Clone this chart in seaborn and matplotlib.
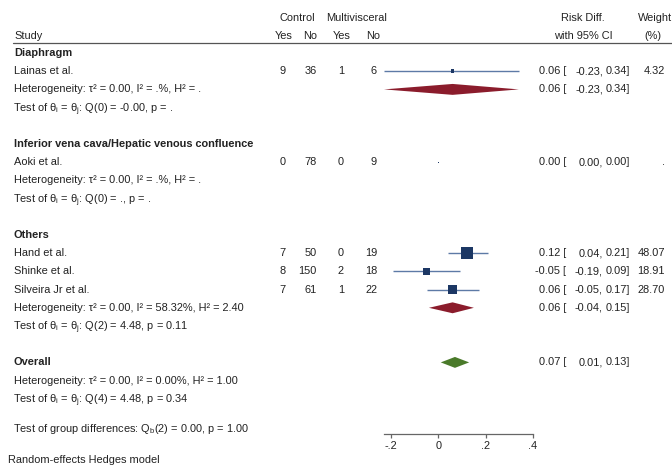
import numpy as np
import matplotlib
matplotlib.use("Agg")
import matplotlib.pyplot as plt
import matplotlib.transforms as mtransforms
import seaborn as sns

# ─── Data ─────────────────────────────────────────────────────────────────────

studies  = ["Lainas et al.", "Aoki et al.", "Hand et al.", "Shinke et al.", "Silveira Jr et al."]
subgroup = ["Diaphragm", "Inferior vena cava/Hepatic venous confluence",
            "Others", "Others", "Others"]
ctrl_yes = [9, 0, 7, 8, 7]
ctrl_no  = [36, 78, 50, 150, 61]
mv_yes   = [1, 0, 0, 2, 1]
mv_no    = [6, 9, 19, 18, 22]
rd       = [0.06, 0.00, 0.12, -0.05, 0.06]
rd_lo    = [-0.23, 0.00, 0.04, -0.19, -0.05]
rd_hi    = [0.34, 0.00, 0.21, 0.09, 0.17]
weight   = [4.32, np.nan, 48.07, 18.91, 28.70]

groups     = ["Diaphragm", "Inferior vena cava/Hepatic venous confluence", "Others"]
group_rd   = [0.06, np.nan, 0.06]
group_lo   = [-0.23, np.nan, -0.04]
group_hi   = [0.34, np.nan, 0.15]
group_het  = ["τ² = 0.00, I² = .%, H² = .",
              "τ² = 0.00, I² = .%, H² = .",
              "τ² = 0.00, I² = 58.32%, H² = 2.40"]
group_test = ["Q(0) = -0.00, p = .",
              "Q(0) = ., p = .",
              "Q(2) = 4.48, p = 0.11"]

overall_rd, overall_lo, overall_hi = 0.07, 0.01, 0.13
overall_het  = "τ² = 0.00, I² = 0.00%, H² = 1.00"
overall_test = "Q(4) = 4.48, p = 0.34"
group_diff   = r"Test of group differences: Q$_\mathregular{b}$(2) = 0.00, p = 1.00"
footnote     = "Random-effects Hedges model"

xticks      = [-0.2, 0, 0.2, 0.4]
xticklabels = ["-.2", "0", ".2", ".4"]

# ─── Style ────────────────────────────────────────────────────────────────────

sns.set_style("white")
plt.rcParams["font.family"] = ["Liberation Sans", "DejaVu Sans"]
plt.rcParams["mathtext.fontset"] = "custom"
plt.rcParams["mathtext.rm"] = "Liberation Sans"
plt.rcParams["mathtext.it"] = "Liberation Sans:italic"
plt.rcParams["mathtext.bf"] = "Liberation Sans:bold"

FS        = 7.9
TXT       = "#222222"
CI_COL    = "#5d7aa6"
SQ_COL    = "#1c3764"
SUB_COL   = "#8b1c2c"
ALL_COL   = "#4a7a2a"
W, H      = 672, 467
ROW0_PX   = 53       # pixel y of first row
ROW_PX    = 18.2     # pixel spacing per row
AX_LEFT   = 384
AX_RIGHT  = 533
AX_BOTTOM = 434
DIA_HALF  = 0.3      # diamond half-height in rows
SUB_SHIFT = 0.1      # mathtext lines with subscripts sit a little high

fig = plt.figure(figsize=(W / 100, H / 100), dpi=100)
ax = fig.add_axes([AX_LEFT / W, (H - AX_BOTTOM) / H,
                   (AX_RIGHT - AX_LEFT) / W, AX_BOTTOM / H])
ax.set_xlim(min(rd_lo), max(xticks))
ax.set_ylim((AX_BOTTOM - ROW0_PX) / ROW_PX, -ROW0_PX / ROW_PX)

tr = mtransforms.blended_transform_factory(fig.transFigure, ax.transData)


def put(xpx, y, s, ha="left", bold=False, **kw):
    ax.text(xpx / W, y, s, transform=tr, ha=ha, va="center", fontsize=FS,
            color=TXT, fontweight="bold" if bold else "normal",
            clip_on=False, **kw)


def put_ci(y, est, lo, hi):
    put(566, y, f"{est:.2f} [", ha="right")
    put(603, y, f"{lo:.2f},", ha="right")
    put(630, y, f"{hi:.2f}]", ha="right")


def diamond(y, est, lo, hi, color):
    ax.fill([lo, est, hi, est], [y, y - DIA_HALF, y, y + DIA_HALF],
            color=color, lw=0, clip_on=False)


def test_line(q):
    return r"Test of θ$_\mathregular{i}$ = θ$_\mathregular{j}$: " + q


# ─── Header ───────────────────────────────────────────────────────────────────

y_h1, y_h2 = -1.92, -0.93
put(297, y_h1, "Control", ha="center")
put(357, y_h1, "Multivisceral", ha="center")
put(583, y_h1, "Risk Diff.", ha="center")
put(655, y_h1, "Weight", ha="center")
put(14, y_h2, "Study")
for xc, s in zip([284, 310, 342, 373], ["Yes", "No", "Yes", "No"]):
    put(xc, y_h2, s, ha="center")
put(583, y_h2, "with 95% CI", ha="center")
put(653, y_h2, "(%)", ha="center")
ax.plot([13 / W, 1.0], [-0.55, -0.55], transform=tr, color="#555555",
        lw=0.9, clip_on=False)

# ─── Rows ─────────────────────────────────────────────────────────────────────

study_y = np.zeros(len(studies))
y = 0
for g, grd, glo, ghi, het, tst in zip(groups, group_rd, group_lo, group_hi,
                                      group_het, group_test):
    put(14, y, g, bold=True)
    y += 1
    for i, s in enumerate(subgroup):
        if s != g:
            continue
        study_y[i] = y
        put(14, y, studies[i])
        put(286, y, str(ctrl_yes[i]), ha="right")
        put(317, y, str(ctrl_no[i]), ha="right")
        put(344, y, str(mv_yes[i]), ha="right")
        put(377, y, str(mv_no[i]), ha="right")
        put_ci(y, rd[i], rd_lo[i], rd_hi[i])
        put(665, y, "." if np.isnan(weight[i]) else f"{weight[i]:.2f}", ha="right")
        y += 1
    put(14, y, "Heterogeneity: " + het)
    if not np.isnan(grd):
        diamond(y, grd, glo, ghi, SUB_COL)
        put_ci(y, grd, glo, ghi)
    y += 1
    put(13, y + SUB_SHIFT, test_line(tst))
    y += 2

put(14, y, "Overall", bold=True)
diamond(y, overall_rd, overall_lo, overall_hi, ALL_COL)
put_ci(y, overall_rd, overall_lo, overall_hi)
put(14, y + 1, "Heterogeneity: " + overall_het)
put(13, y + 2 + SUB_SHIFT, test_line(overall_test))
put(13, y + 3.55 + SUB_SHIFT, group_diff)
put(8, y + 5.35, footnote)

# study CIs and weight squares
ax.hlines(study_y, rd_lo, rd_hi, color=CI_COL, lw=1.0, zorder=2)
w = np.nan_to_num(np.array(weight), nan=0.6)
side_pt = 1.73 * np.sqrt(w) * 0.72
sns.scatterplot(x=rd, y=study_y, s=side_pt ** 2, marker="s", color=SQ_COL,
                linewidth=0, legend=False, ax=ax, zorder=3)

# ─── Axis ─────────────────────────────────────────────────────────────────────

sns.despine(ax=ax, left=True, top=True, right=True)
ax.spines["bottom"].set_color("#666666")
ax.spines["bottom"].set_linewidth(0.9)
ax.set_xticks(xticks)
ax.set_xticklabels(xticklabels)
ax.set_yticks([])
ax.tick_params(axis="x", direction="out", length=3, width=0.9, color="#666666",
               labelsize=FS, labelcolor=TXT, pad=2, bottom=True)
ax.set_xlabel("")
ax.set_ylabel("")
ax.patch.set_alpha(0)

fig.savefig("out.png", dpi=100)
